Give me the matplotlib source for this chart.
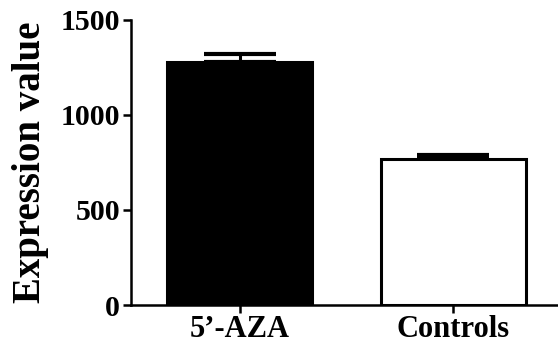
import matplotlib.pyplot as plt

groups = ["5\u2019-AZA", "Controls"]
means = [1278, 767]
errors = [44, 21]
fills = ["black", "white"]

plt.rcParams['font.family'] = ['Liberation Serif', 'DejaVu Serif']
plt.rcParams['font.weight'] = 'bold'

fig = plt.figure(figsize=(5.58, 3.49), dpi=100)
ax = fig.add_axes([0.235, 0.126, 0.765, 0.817])

x = list(range(len(groups)))
ax.bar(x, means, width=0.68, color=fills, edgecolor='black', linewidth=2.2, zorder=2)
ax.errorbar(x, means, yerr=[[0, 0], errors], fmt='none', ecolor='black',
            elinewidth=2.2, capsize=26, capthick=3, zorder=1)

ax.set_ylim(0, 1500)
ax.set_xlim(-0.507, 1.49)
ax.set_yticks([0, 500, 1000, 1500])
ax.set_xticks(x)
ax.set_xticklabels(groups, fontsize=22)
ax.set_ylabel('Expression value', fontsize=28, fontweight='bold', labelpad=8)

for side in ['top', 'right']:
    ax.spines[side].set_visible(False)
for side in ['left', 'bottom']:
    ax.spines[side].set_linewidth(1.8)
ax.tick_params(axis='both', width=1.8, length=6)
ax.tick_params(axis='y', pad=2, labelsize=21.5)
ax.tick_params(axis='x', pad=1)

fig.savefig('out.png', dpi=100)
